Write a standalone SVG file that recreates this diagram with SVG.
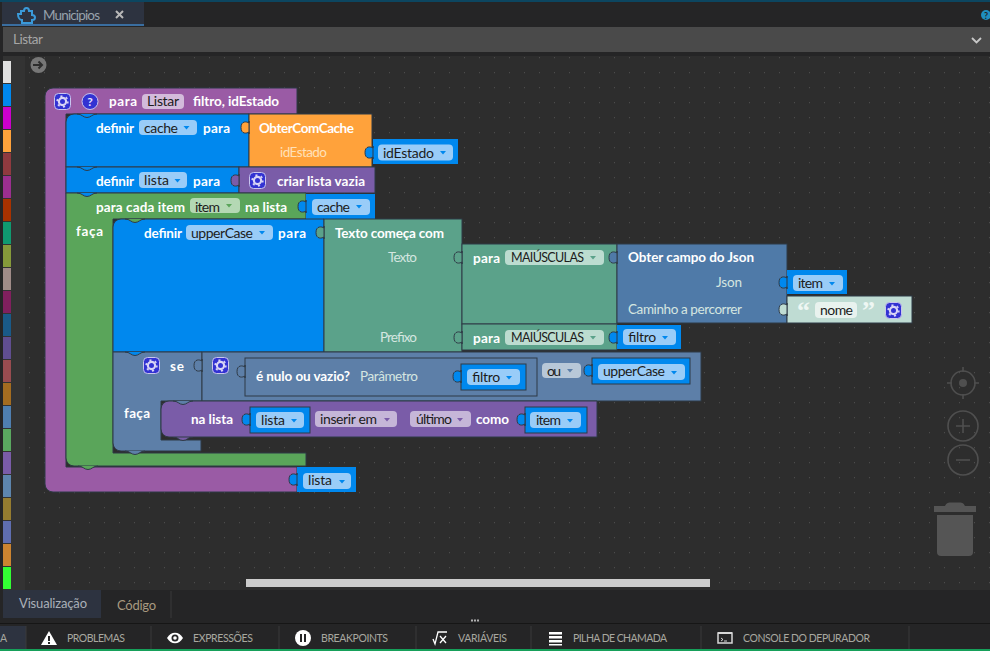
<svg xmlns="http://www.w3.org/2000/svg" xmlns:xlink="http://www.w3.org/1999/xlink" width="990" height="651" viewBox="0 0 990 651">
<style>
text{font-family:"Lato","Noto Sans","Liberation Sans",sans-serif;font-size:13.5px}
.b{fill:#fff;font-weight:700}
.t{fill:#d5e6e0;font-weight:400}
.f{fill:#1c1c1c;font-weight:400;font-size:14px}
.m{font-size:12.5px}
.u{fill:#a8a8a0;font-size:10.5px;font-weight:400}
.blk{stroke:#2f3a46;stroke-width:1}
.blue{fill:#0088ee}.pur{fill:#9a5ba5}.vio{fill:#7a5ca8}.org{fill:#ffa23b}.grn{fill:#5aa55a}.teal{fill:#5ba28a}.jsn{fill:#4f7aa8}.se{fill:#5d7fa8}.str{fill:#bfdcd3}
.fb{fill:#99ccf8}.fg{fill:#b4d8b4}.ft{fill:#bcdcd0}.fv{fill:#c5b6d8}.fp{fill:#d3bbdb}.fs{fill:#b8c8d8}.fw{fill:#e8f2ee}
.tab{stroke:#2f3a46;stroke-width:1}
.bump{stroke:#2f3a46;stroke-width:1}
.hud{fill:none;stroke:#4f4f4f;stroke-width:1.6}
</style>
<defs>
<pattern id="dots" x="29" y="57" width="15" height="15" patternUnits="userSpaceOnUse"><rect width="1" height="1.2" fill="#4c4c4c"/></pattern>
<path id="tab" d="M0,0v2c-2,-1.500 -8,-2.500 -8,4.500s6,6 8,4.500v2z"/>
<path id="bump" d="M0,0c5,0 6,3.500 10,3.500s5,-3.500 10,-3.500"/>
<g id="gear"><rect x="0.5" y="0.5" width="16" height="16" rx="4" fill="#3232d2" stroke="#c9c4ee" stroke-width="1"/><circle cx="8.5" cy="8.5" r="3.6" fill="none" stroke="#d8d4f6" stroke-width="2.2"/><circle cx="8.5" cy="8.5" r="5.4" fill="none" stroke="#d8d4f6" stroke-width="1.6" stroke-dasharray="2.1 3.55"/></g>
<path id="arr" d="M0,0h6l-3,3.500z"/>
</defs>

<g id="chrome">
<rect width="990" height="651" fill="#252526"/>
<rect width="990" height="2" fill="#0c4660"/>
<rect y="27" x="3" width="987" height="25" fill="#4a4a4a"/>
<rect y="52" width="990" height="4" fill="#252526"/>
<rect x="2" y="2" width="142" height="22" fill="#2d3340"/>
<rect x="2" y="24" width="142" height="2" fill="#3a6ea0"/>
<path d="M18,14h3v-3h3c0,-4 5,-4 5,0h3v4c4,0 4,5 0,5v3H22v-3c-2,0 -4,-2 -4,-6z" fill="none" stroke="#3a9ad9" stroke-width="2"/>
<text x="43" y="20" fill="#98a2ac" textLength="57">Municipios</text>
<path d="M116,11l7,7m0,-7l-7,7" stroke="#b8b8b8" stroke-width="2"/>
<circle cx="986" cy="15" r="5" fill="#1f8fc0"/>
<text x="986" y="18.500" text-anchor="middle" fill="#252526" font-weight="700" style="font-size:9px">?</text>
<text x="13" y="44" fill="#a6a6a6" textLength="30">Listar</text>
<path d="M972,38l4.500,4.500l4.500,-4.500" fill="none" stroke="#c8c8c8" stroke-width="1.800"/>
<rect x="25" y="56" width="965" height="534" fill="#2d2d2d"/>
<rect x="25" y="56" width="965" height="534" fill="url(#dots)"/>
<rect x="3" y="56" width="22" height="534" fill="#333333"/>
<g id="palette">
<rect x="3" y="61" width="8" height="22" fill="#e0e0e0"/><rect x="3" y="84" width="8" height="22" fill="#0088ee"/><rect x="3" y="107" width="8" height="22" fill="#cc00cc"/><rect x="3" y="130" width="8" height="22" fill="#ffa23b"/><rect x="3" y="153" width="8" height="22" fill="#8f3a3f"/><rect x="3" y="176" width="8" height="22" fill="#9b2f8f"/><rect x="3" y="199" width="8" height="22" fill="#a83200"/><rect x="3" y="222" width="8" height="22" fill="#109a70"/><rect x="3" y="245" width="8" height="22" fill="#869a3a"/><rect x="3" y="268" width="8" height="22" fill="#a08c88"/><rect x="3" y="291" width="8" height="22" fill="#80205e"/><rect x="3" y="314" width="8" height="22" fill="#1a5a88"/><rect x="3" y="337" width="8" height="22" fill="#604e90"/><rect x="3" y="360" width="8" height="22" fill="#984c50"/><rect x="3" y="383" width="8" height="22" fill="#a46c20"/><rect x="3" y="406" width="8" height="22" fill="#4f7fb0"/><rect x="3" y="429" width="8" height="22" fill="#5aa860"/><rect x="3" y="452" width="8" height="22" fill="#7a5ca8"/><rect x="3" y="475" width="8" height="22" fill="#5d85ad"/><rect x="3" y="498" width="8" height="22" fill="#957c30"/><rect x="3" y="521" width="8" height="22" fill="#5f6eb0"/><rect x="3" y="544" width="8" height="22" fill="#cc8430"/><rect x="3" y="567" width="8" height="22" fill="#33ff33"/>
</g>
<circle cx="38.500" cy="65" r="8" fill="#777777"/>
<path d="M33,65h9m-3.500,-3.500l3.500,3.500l-3.500,3.500" fill="none" stroke="#2d2d2d" stroke-width="2"/>
</g>

<g id="hud">
<circle class="hud" cx="963" cy="383" r="12"/><circle cx="963" cy="383" r="4" fill="#4f4f4f"/><path class="hud" d="M963,367v5M963,394v5M947,383h5M974,383h5"/>
<circle class="hud" cx="963" cy="426" r="15"/><path class="hud" d="M956,426h14M963,419v14"/>
<circle class="hud" cx="963" cy="460" r="15"/><path class="hud" d="M956,460h14"/>
<path d="M934,506h11c2,-4 4,-3.500 10,-3.500s8,-0.500 10,3.500h11v6h-42z" fill="#555555"/>
<path d="M937,515h36v37a4,4 0 0 1 -4,4h-28a4,4 0 0 1 -4,-4z" fill="#555555"/>
<rect x="246" y="579" width="464" height="8" fill="#cccccc"/>
</g>

<g id="connectors"></g>

<g id="proc-para">
<path class="pur blk" d="M53,88H297V114H66V467H297V492H53a8,8 0 0 1 -8,-8V96a8,8 0 0 1 8,-8z"/>
<use xlink:href="#gear" x="54" y="93"/>
<circle cx="90" cy="101.500" r="8" fill="#3232d2" stroke="#c9c4ee"/>
<text x="90" y="106" text-anchor="middle" fill="#e6e2ff" font-weight="700" style="font-size:12px">?</text>
<text class="b" x="109" y="106" textLength="28">para</text>
<rect class="fp" x="142" y="94" width="42" height="15" rx="4"/>
<text class="f" x="147" y="106" textLength="32">Listar</text>
<text class="b" x="193" y="106" textLength="86">filtro, idEstado</text>
</g>

<g id="set-cache">
<path class="blue blk" d="M74,114H249V167H66V122a8,8 0 0 1 8,-8z"/>
<text class="b" x="96" y="133" textLength="38">definir</text>
<rect class="fb" x="139" y="120" width="58" height="15" rx="4"/>
<text class="f" x="144" y="133" textLength="34">cache</text>
<use xlink:href="#arr" x="183.500" y="126" fill="#0088ee"/>
<text class="b" x="203" y="133" textLength="27">para</text>
<use class="blue bump" xlink:href="#bump" x="77" y="114" fill="#9a5ba5"/>
</g>
<g id="obter-com-cache">
<rect class="org blk" x="249" y="114" width="123" height="53"/>
<use class="org tab" xlink:href="#tab" x="249" y="121"/>
<text class="b" x="259" y="133" textLength="95">ObterComCache</text>
<text x="280" y="157" fill="#ffe0b8" textLength="47">idEstado</text>
</g>
<g id="var-idestado">
<rect class="blue" x="373" y="139" width="85" height="25"/>
<use class="blue tab" xlink:href="#tab" x="373" y="146"/>
<rect class="fb" x="378" y="144.500" width="75" height="16" rx="4"/>
<text class="f" x="383" y="158" textLength="51">idEstado</text>
<use xlink:href="#arr" x="440" y="151" fill="#0088ee"/>
</g>

<g id="set-lista">
<rect class="blue blk" x="66" y="167" width="173" height="26"/>
<use class="blue bump" xlink:href="#bump" x="77" y="167" fill="#0088ee"/>
<text class="b" x="96" y="186" textLength="38">definir</text>
<rect class="fb" x="139" y="172" width="48" height="16" rx="4"/>
<text class="f" x="144" y="185" textLength="25">lista</text>
<use xlink:href="#arr" x="174.500" y="179" fill="#0088ee"/>
<text class="b" x="193" y="186" textLength="27">para</text>
</g>
<g id="criar-lista">
<rect class="vio blk" x="239" y="167" width="136" height="26"/>
<use class="vio tab" xlink:href="#tab" x="239" y="174"/>
<use xlink:href="#gear" x="249" y="172"/>
<text class="b" x="277" y="186" textLength="88">criar lista vazia</text>
</g>

<g id="foreach">
<path class="grn blk" d="M66,193H306V219H113V453H306V466H74a8,8 0 0 1 -8,-8z"/>
<use class="blue bump" xlink:href="#bump" x="77" y="193" fill="#0088ee"/>
<text class="b" x="96" y="212" textLength="89">para cada item</text>
<rect class="fg" x="190" y="198" width="50" height="15" rx="4"/>
<text class="f" x="195" y="212" textLength="25">item</text>
<use xlink:href="#arr" x="226" y="204" fill="#5aa55a"/>
<text class="b" x="245" y="212" textLength="42">na lista</text>
<text class="b" x="76" y="236" textLength="27">faça</text>
<use class="grn bump" xlink:href="#bump" x="78" y="466" fill="#5aa55a"/>
</g>
<g id="var-cache">
<rect class="blue" x="306" y="194" width="69" height="25"/>
<use class="blue tab" xlink:href="#tab" x="306" y="200"/>
<rect class="fb" x="312" y="199" width="58" height="16" rx="4"/>
<text class="f" x="317" y="212" textLength="33">cache</text>
<use xlink:href="#arr" x="356" y="205" fill="#0088ee"/>
</g>

<g id="set-uppercase">
<path class="blue blk" d="M121,219H324V352H113V227a8,8 0 0 1 8,-8z"/>
<use class="grn bump" xlink:href="#bump" x="125" y="219" fill="#5aa55a"/>
<text class="b" x="144" y="238" textLength="38">definir</text>
<rect class="fb" x="186" y="225" width="87" height="15" rx="4"/>
<text class="f" x="191" y="238" textLength="62">upperCase</text>
<use xlink:href="#arr" x="259" y="231" fill="#0088ee"/>
<text class="b" x="278" y="238" textLength="28">para</text>
</g>
<g id="texto-comeca">
<rect class="teal blk" x="324" y="219" width="138" height="133"/>
<use class="teal tab" xlink:href="#tab" x="324" y="226"/>
<text class="b" x="335" y="238" textLength="109">Texto começa com</text>
<text class="t" x="388" y="262" textLength="29">Texto</text>
<text class="t" x="380" y="342" textLength="37">Prefixo</text>
</g>
<g id="upper-1">
<rect class="teal blk" x="462" y="244" width="155" height="80"/>
<use class="teal tab" xlink:href="#tab" x="462" y="251"/>
<text class="b" x="473" y="263" textLength="27">para</text>
<rect class="ft" x="505" y="250" width="99" height="15" rx="4"/>
<text class="f m" x="511" y="262" textLength="73">MAIÚSCULAS</text>
<use xlink:href="#arr" x="590" y="256" fill="#5ba28a"/>
</g>
<g id="obter-json">
<rect class="jsn blk" x="617" y="244" width="170" height="79"/>
<use class="jsn tab" xlink:href="#tab" x="617" y="251"/>
<text class="b" x="628" y="262" textLength="126">Obter campo do Json</text>
<text class="t" x="716" y="287" textLength="26">Json</text>
<text class="t" x="628" y="314" textLength="114">Caminho a percorrer</text>
</g>
<g id="var-item-json">
<rect class="blue" x="787" y="270" width="60" height="24"/>
<use class="blue tab" xlink:href="#tab" x="787" y="276"/>
<rect class="fb" x="793" y="275" width="50" height="16" rx="4"/>
<text class="f" x="798" y="288" textLength="25">item</text>
<use xlink:href="#arr" x="829" y="282" fill="#0088ee"/>
</g>
<g id="str-nome">
<rect class="str blk" x="787" y="296" width="125" height="27"/>
<use class="str tab" xlink:href="#tab" x="787" y="303"/>
<text x="797" y="319" fill="#eef7f3" font-weight="700" style="font-size:26px;font-family:'Liberation Serif',serif">“</text>
<rect class="fw" x="815" y="302" width="42" height="16" rx="4"/>
<text class="f" x="820" y="315" textLength="33">nome</text>
<text x="862" y="319" fill="#eef7f3" font-weight="700" style="font-size:26px;font-family:'Liberation Serif',serif">”</text>
<use xlink:href="#gear" x="885" y="302"/>
</g>
<g id="upper-2">
<rect class="teal blk" x="462" y="324" width="155" height="26"/>
<use class="teal tab" xlink:href="#tab" x="462" y="331"/>
<text class="b" x="473" y="343" textLength="27">para</text>
<rect class="ft" x="505" y="330" width="99" height="15" rx="4"/>
<text class="f m" x="511" y="342" textLength="73">MAIÚSCULAS</text>
<use xlink:href="#arr" x="590" y="336" fill="#5ba28a"/>
</g>
<g id="var-filtro">
<rect class="blue" x="617" y="325" width="64" height="24"/>
<use class="blue tab" xlink:href="#tab" x="617" y="331"/>
<rect class="fb" x="623" y="329" width="53" height="16" rx="4"/>
<text class="f" x="628" y="342" textLength="28">filtro</text>
<use xlink:href="#arr" x="662" y="336" fill="#0088ee"/>
</g>

<g id="se">
<path class="se blk" d="M113,352H202V401H161V440H201V451H121a8,8 0 0 1 -8,-8z"/>
<use class="blue bump" xlink:href="#bump" x="125" y="352" fill="#0088ee"/>
<use xlink:href="#gear" x="143" y="357"/>
<text class="b" x="170" y="371" textLength="14">se</text>
<text class="b" x="124" y="418" textLength="26">faça</text>
<use class="se bump" xlink:href="#bump" x="125" y="451" fill="#5d7fa8"/>
</g>
<g id="ou">
<rect class="se blk" x="202" y="352" width="499" height="49"/>
<use class="se tab" xlink:href="#tab" x="202" y="359"/>
<use xlink:href="#gear" x="212" y="357"/>
<rect class="fs" x="542" y="363" width="39" height="15" rx="4"/>
<text class="f" x="547" y="376" textLength="14">ou</text>
<use xlink:href="#arr" x="567" y="369" fill="#5d7fa8"/>
</g>
<g id="nulo">
<rect class="se blk" x="245" y="358" width="292" height="38"/>
<use class="se tab" xlink:href="#tab" x="245" y="365"/>
<text class="b" x="256" y="381" textLength="94">é nulo ou vazio?</text>
<text class="t" x="360" y="381" textLength="58">Parâmetro</text>
</g>
<g id="var-filtro-2">
<rect class="blue blk" x="461" y="364" width="65" height="26"/>
<use class="blue tab" xlink:href="#tab" x="461" y="370"/>
<rect class="fb" x="467" y="369" width="53" height="16" rx="4"/>
<text class="f" x="472" y="382" textLength="28">filtro</text>
<use xlink:href="#arr" x="506" y="376" fill="#0088ee"/>
</g>
<g id="var-uppercase">
<rect class="blue blk" x="592" y="358" width="98" height="26"/>
<use class="blue tab" xlink:href="#tab" x="592" y="364"/>
<rect class="fb" x="598" y="364" width="87" height="16" rx="4"/>
<text class="f" x="603" y="376" textLength="62">upperCase</text>
<use xlink:href="#arr" x="671" y="371" fill="#0088ee"/>
</g>

<g id="inserir">
<use class="vio bump" xlink:href="#bump" x="173" y="437" fill="#7a5ca8"/>
<path class="vio blk" d="M169,401H597V437H169a8,8 0 0 1 -8,-8V409a8,8 0 0 1 8,-8z"/>
<use class="se bump" xlink:href="#bump" x="173" y="401" fill="#5d7fa8"/>
<text class="b" x="191" y="424" textLength="42">na lista</text>
<rect class="fv" x="315" y="411" width="82" height="16" rx="4"/>
<text class="f" x="320" y="424" textLength="57">inserir em</text>
<use xlink:href="#arr" x="384" y="418" fill="#7a5ca8"/>
<rect class="fv" x="410" y="411" width="61" height="16" rx="4"/>
<text class="f" x="416" y="424" textLength="36">último</text>
<use xlink:href="#arr" x="457" y="418" fill="#7a5ca8"/>
<text class="b" x="476" y="424" textLength="33">como</text>
</g>
<g id="var-lista-2">
<rect class="blue blk" x="250" y="407" width="60" height="26"/>
<use class="blue tab" xlink:href="#tab" x="250" y="413"/>
<rect class="fb" x="256" y="412" width="48" height="16" rx="4"/>
<text class="f" x="261" y="425" textLength="24">lista</text>
<use xlink:href="#arr" x="291" y="419" fill="#0088ee"/>
</g>
<g id="var-item-2">
<rect class="blue blk" x="525" y="407" width="62" height="26"/>
<use class="blue tab" xlink:href="#tab" x="525" y="413"/>
<rect class="fb" x="530" y="412" width="51" height="16" rx="4"/>
<text class="f" x="536" y="425" textLength="25">item</text>
<use xlink:href="#arr" x="567" y="419" fill="#0088ee"/>
</g>
<g id="var-lista-ret">
<rect class="blue" x="297" y="467" width="59" height="25"/>
<use class="blue tab" xlink:href="#tab" x="297" y="473"/>
<rect class="fb" x="303" y="473" width="48" height="16" rx="4"/>
<text class="f" x="308" y="485" textLength="24">lista</text>
<use xlink:href="#arr" x="339" y="480" fill="#0088ee"/>
</g>

<g id="bottom">
<rect x="0" y="590" width="990" height="60" fill="#252526"/>
<rect x="3" y="590" width="98" height="28" fill="#2d3340"/>
<text x="19" y="608" fill="#aab0b8" textLength="68" style="font-size:13px">Visualização</text>
<text x="117" y="610" fill="#a89a80" textLength="39" style="font-size:13px">Código</text>
<path d="M171,591V618" stroke="#3a3a3a" stroke-width="1"/>
<path d="M0,623.500H990" stroke="#161616" stroke-width="1"/>
<path d="M471,620.500h2m1,0h2m1,0h2" stroke="#b0b0b0" stroke-width="2"/>
<rect x="0" y="626" width="26" height="23" fill="#2d3340"/>
<rect x="0" y="649" width="990" height="2" fill="#16a05a"/>
<path d="M26,626V649M151,626V649M279,626V649M416,626V649M531,626V649M701,626V649M909,626V649" stroke="#3a3a3a"/>
<text class="u" x="0" y="642" textLength="6">A</text>
<path d="M49,631l8,14H41z" fill="#fff"/><rect x="48" y="636" width="2" height="5" fill="#252526"/><rect x="48" y="642" width="2" height="2" fill="#252526"/>
<text class="u" x="67" y="642" textLength="58">PROBLEMAS</text>
<path d="M167,638c4,-7 12,-7 16,0c-4,7 -12,7 -16,0z" fill="#fff"/><circle cx="175" cy="638" r="3.500" fill="#252526"/><circle cx="175" cy="638" r="1.800" fill="#fff"/>
<text class="u" x="193" y="642" textLength="60">EXPRESSÕES</text>
<circle cx="303" cy="638" r="8" fill="#fff"/><path d="M300,634h2v8h-2zM304,634h2v8h-2z" fill="#252526"/>
<text class="u" x="321" y="642" textLength="67">BREAKPOINTS</text>
<path d="M433,639l2,5l3,-12h9M440,636l6,7m0,-7l-6,7" fill="none" stroke="#fff" stroke-width="1.300"/>
<text class="u" x="458" y="642" textLength="49">VARIÁVEIS</text>
<path d="M549,632h13v2.500h-13zM549,636h13v2.500h-13zM549,640h13v2.500h-13zM549,644h13v1.500h-13z" fill="#fff"/>
<text class="u" x="573" y="642" textLength="94">PILHA DE CHAMADA</text>
<rect x="718" y="633" width="14" height="10" fill="#252526" stroke="#d8d8d8" stroke-width="1.500"/><path d="M718,632h14v2h-14z" fill="#d8d8d8"/><path d="M721,638l2,1.500l-2,1.500M724,641h3" fill="none" stroke="#fff" stroke-width="0.800"/>
<text class="u" x="743" y="642" textLength="127">CONSOLE DO DEPURADOR</text>
</g>
</svg>
